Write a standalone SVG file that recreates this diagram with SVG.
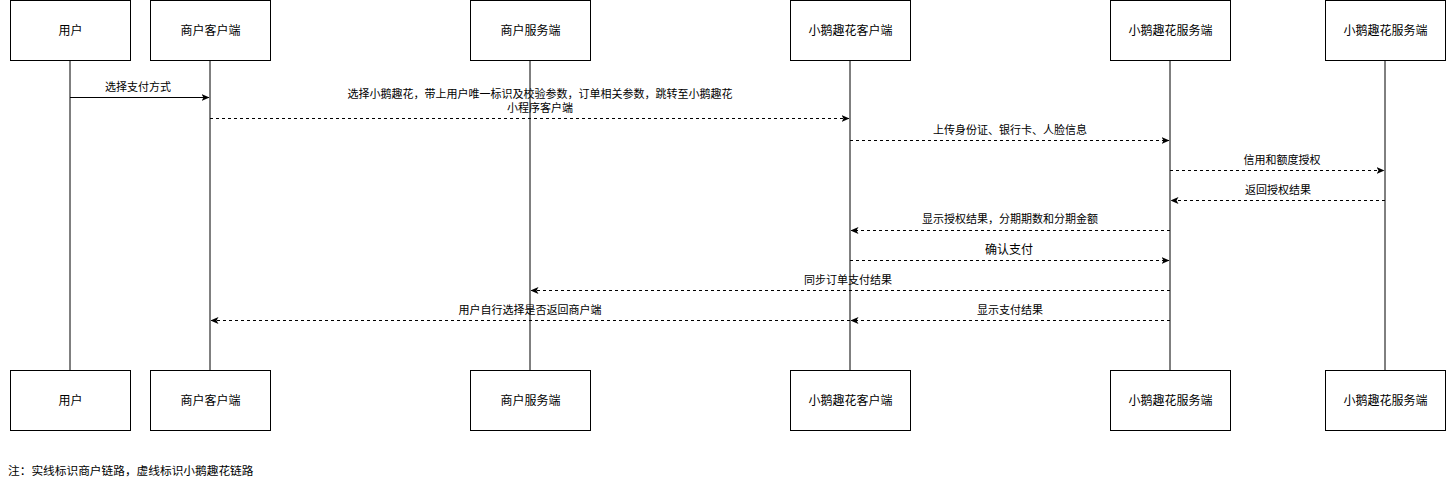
<svg xmlns="http://www.w3.org/2000/svg" width="1446" height="481" viewBox="0 0 1446 481">
<style>
.box{fill:#fff;stroke:#000;stroke-width:1}
.life{stroke:#000;stroke-width:1;fill:none}
.t{font-family:"Liberation Sans","Noto Sans CJK SC",sans-serif;font-size:12px;fill:#000;text-anchor:middle;dominant-baseline:central}
.lbl{font-family:"Liberation Sans","Noto Sans CJK SC",sans-serif;font-size:11px;fill:#000;text-anchor:middle;dominant-baseline:central}
.msg{stroke:#000;stroke-width:1;fill:none}
.dash{stroke-dasharray:3 3}
</style>
<defs>
<marker id="ah" viewBox="0 0 8 8" markerWidth="8" markerHeight="8" refX="7.5" refY="4" orient="auto" markerUnits="userSpaceOnUse">
<path d="M0,0.5 L8,4 L0,7.5 L2,4 Z" fill="#000"/>
</marker>
</defs>
<rect width="1446" height="481" fill="#fff"/>
<g id="lifelines">
<line class="life" x1="70" y1="60" x2="70" y2="370"/>
<line class="life" x1="210" y1="60" x2="210" y2="370"/>
<line class="life" x1="530" y1="60" x2="530" y2="370"/>
<line class="life" x1="850" y1="60" x2="850" y2="370"/>
<line class="life" x1="1170" y1="60" x2="1170" y2="370"/>
<line class="life" x1="1385" y1="60" x2="1385" y2="370"/>
</g>
<g id="user-top"><rect class="box" x="10.5" y="0.5" width="120" height="60"/><text class="t" x="70.5" y="30.5">用户</text></g>
<g id="merchant-client-top"><rect class="box" x="150.5" y="0.5" width="120" height="60"/><text class="t" x="210.5" y="30.5">商户客户端</text></g>
<g id="merchant-server-top"><rect class="box" x="470.5" y="0.5" width="120" height="60"/><text class="t" x="530.5" y="30.5">商户服务端</text></g>
<g id="xeqh-client-top"><rect class="box" x="790.5" y="0.5" width="120" height="60"/><text class="t" x="850.5" y="30.5">小鹅趣花客户端</text></g>
<g id="xeqh-server-top"><rect class="box" x="1110.5" y="0.5" width="120" height="60"/><text class="t" x="1170.5" y="30.5">小鹅趣花服务端</text></g>
<g id="xeqh-server2-top"><rect class="box" x="1325.5" y="0.5" width="120" height="60"/><text class="t" x="1385.5" y="30.5">小鹅趣花服务端</text></g>
<g id="user-bottom"><rect class="box" x="10.5" y="370.5" width="120" height="60"/><text class="t" x="70.5" y="400.5">用户</text></g>
<g id="merchant-client-bottom"><rect class="box" x="150.5" y="370.5" width="120" height="60"/><text class="t" x="210.5" y="400.5">商户客户端</text></g>
<g id="merchant-server-bottom"><rect class="box" x="470.5" y="370.5" width="120" height="60"/><text class="t" x="530.5" y="400.5">商户服务端</text></g>
<g id="xeqh-client-bottom"><rect class="box" x="790.5" y="370.5" width="120" height="60"/><text class="t" x="850.5" y="400.5">小鹅趣花客户端</text></g>
<g id="xeqh-server-bottom"><rect class="box" x="1110.5" y="370.5" width="120" height="60"/><text class="t" x="1170.5" y="400.5">小鹅趣花服务端</text></g>
<g id="xeqh-server2-bottom"><rect class="box" x="1325.5" y="370.5" width="120" height="60"/><text class="t" x="1385.5" y="400.5">小鹅趣花服务端</text></g>
<g id="connectors">
<line class="msg" x1="70" y1="97.5" x2="209" y2="97.5" marker-end="url(#ah)"/>
<line class="msg dash" x1="210" y1="118.5" x2="849" y2="118.5" marker-end="url(#ah)"/>
<line class="msg dash" x1="850" y1="140.5" x2="1169" y2="140.5" marker-end="url(#ah)"/>
<line class="msg dash" x1="1170" y1="170.5" x2="1384" y2="170.5" marker-end="url(#ah)"/>
<line class="msg dash" x1="1385" y1="200.5" x2="1171" y2="200.5" marker-end="url(#ah)"/>
<line class="msg dash" x1="1170" y1="230.5" x2="851" y2="230.5" marker-end="url(#ah)"/>
<line class="msg dash" x1="850" y1="260.5" x2="1169" y2="260.5" marker-end="url(#ah)"/>
<line class="msg dash" x1="1170" y1="290.5" x2="531" y2="290.5" marker-end="url(#ah)"/>
<line class="msg dash" x1="1170" y1="320.5" x2="851" y2="320.5" marker-end="url(#ah)"/>
<line class="msg dash" x1="850" y1="320.5" x2="211" y2="320.5" marker-end="url(#ah)"/>
</g>
<g id="labels">
<text class="lbl" x="138" y="87">选择支付方式</text>
<text class="lbl" x="540" y="94">选择小鹅趣花，带上用户唯一标识及校验参数，订单相关参数，跳转至小鹅趣花</text>
<text class="lbl" x="540" y="108">小程序客户端</text>
<text class="lbl" x="1010" y="130">上传身份证、银行卡、人脸信息</text>
<text class="lbl" x="1282" y="160">信用和额度授权</text>
<text class="lbl" x="1278" y="190">返回授权结果</text>
<text class="lbl" x="1010" y="219">显示授权结果，分期期数和分期金额</text>
<text class="lbl" x="1009" y="250" style="font-size:12px">确认支付</text>
<text class="lbl" x="848" y="280">同步订单支付结果</text>
<text class="lbl" x="1010" y="310">显示支付结果</text>
<text class="lbl" x="530" y="310">用户自行选择是否返回商户端</text>
</g>
<text class="lbl" x="8" y="470" style="text-anchor:start;font-size:11.7px">注：实线标识商户链路，虚线标识小鹅趣花链路</text>
</svg>
